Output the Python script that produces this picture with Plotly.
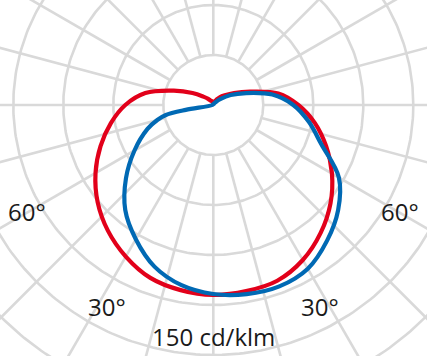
import numpy as np
import plotly.graph_objects as go

# ---- data (cd/klm), gamma measured from nadir (0° = straight down) ----
GAMMA = [0, 10, 20, 30, 40, 50, 60, 70, 80, 90, 100, 110, 120, 130, 140, 150, 160, 170, 180]

# red curve: C0 (right half) / C180 (left half)
I_C0 = [113.4, 113.4, 112.2, 107.4, 100.2, 91.8, 82.2, 72.0, 61.8, 51.0, 39.6, 23.4, 14.4, 9.0, 6.0, 3.6, 2.4, 1.8, 1.8]
I_C180 = [114.0, 112.8, 110.4, 105.0, 98.4, 90.6, 81.6, 72.0, 62.4, 52.8, 41.4, 25.2, 14.4, 7.8, 4.8, 3.0, 2.4, 1.8, 1.8]

# blue curve: C90 (right half) / C270 (left half)
I_C90 = [113.4, 115.2, 115.8, 113.4, 106.2, 97.8, 87.0, 69.0, 58.2, 48.0, 36.0, 21.0, 12.0, 5.4, 2.4, 1.2, 0.6, 0.6, 0.6]
GAMMA_C270 = [0, 10, 20, 30, 40, 50, 60, 70, 75, 78, 80, 90]
I_C270 = [113.4, 109.8, 103.2, 93.0, 82.2, 68.4, 54.6, 42.0, 34.8, 29.4, 16.8, 0.6]

RINGS = [30, 60, 90, 120, 150, 180, 210]      # cd/klm
SPOKES = list(range(0, 360, 15))              # degrees
LABELS_DEG = ["60°", "60°", "30°", "30°"]
SCALE_LABEL = "150 cd/klm"

RED = "#e2001a"
BLUE = "#0069b4"
GRID = "#d9d9d9"


def half(gam, inten, side):
    g = np.radians(np.asarray(gam, dtype=float))
    r = np.asarray(inten, dtype=float)
    return side * r * np.sin(g), -r * np.cos(g)


fig = go.Figure()

# grid rings
t = np.linspace(0, 2 * np.pi, 361)
for rv in RINGS:
    fig.add_trace(go.Scatter(x=rv * np.cos(t), y=rv * np.sin(t), mode="lines",
                             line=dict(color=GRID, width=2.6), hoverinfo="skip", showlegend=False))
# spokes (start at the first ring)
for a in SPOKES:
    ar = np.radians(a)
    fig.add_trace(go.Scatter(x=[RINGS[0] * np.cos(ar), 260 * np.cos(ar)],
                             y=[RINGS[0] * np.sin(ar), 260 * np.sin(ar)], mode="lines",
                             line=dict(color=GRID, width=2.6), hoverinfo="skip", showlegend=False))


def curve(gl, il, gr, ir, color):
    xl, yl = half(gl, il, -1)
    xr, yr = half(gr, ir, 1)
    x = np.concatenate([xl[::-1], xr[1:]])
    y = np.concatenate([yl[::-1], yr[1:]])
    x = np.append(x, x[0])
    y = np.append(y, y[0])
    fig.add_trace(go.Scatter(x=x, y=y, mode="lines",
                             line=dict(color=color, width=4.2, shape="spline", smoothing=1.0),
                             hoverinfo="skip", showlegend=False))


curve(GAMMA, I_C180, GAMMA, I_C0, RED)
curve(GAMMA_C270, I_C270, GAMMA, I_C90, BLUE)

PX = 250 / 150  # pixels per cd/klm
W, H = 427, 356
CX, CY = 213.3, 105
xr = [-CX / PX, (W - CX) / PX]
yr = [-(H - CY) / PX, CY / PX]

font = dict(family="Open Sans, Noto Sans, sans-serif", size=24, color="#1a1a1a")
ann_pos = [(-111.6, -64.0), (112.0, -64.0), (-63.6, -121.0), (64.0, -121.0)]
for (ax, ay), txt in zip(ann_pos, LABELS_DEG):
    fig.add_annotation(x=ax, y=ay, text=txt, showarrow=False, font=font,
                       xanchor="center", yanchor="middle")
fig.add_annotation(x=0, y=-139.0, text=SCALE_LABEL, showarrow=False, font=font,
                   xanchor="center", yanchor="middle")

fig.update_layout(
    width=W, height=H, margin=dict(l=0, r=0, t=0, b=0),
    paper_bgcolor="white", plot_bgcolor="white",
    xaxis=dict(range=xr, visible=False, fixedrange=True),
    yaxis=dict(range=yr, visible=False, fixedrange=True),
    showlegend=False,
)

fig.write_html("out.html")
